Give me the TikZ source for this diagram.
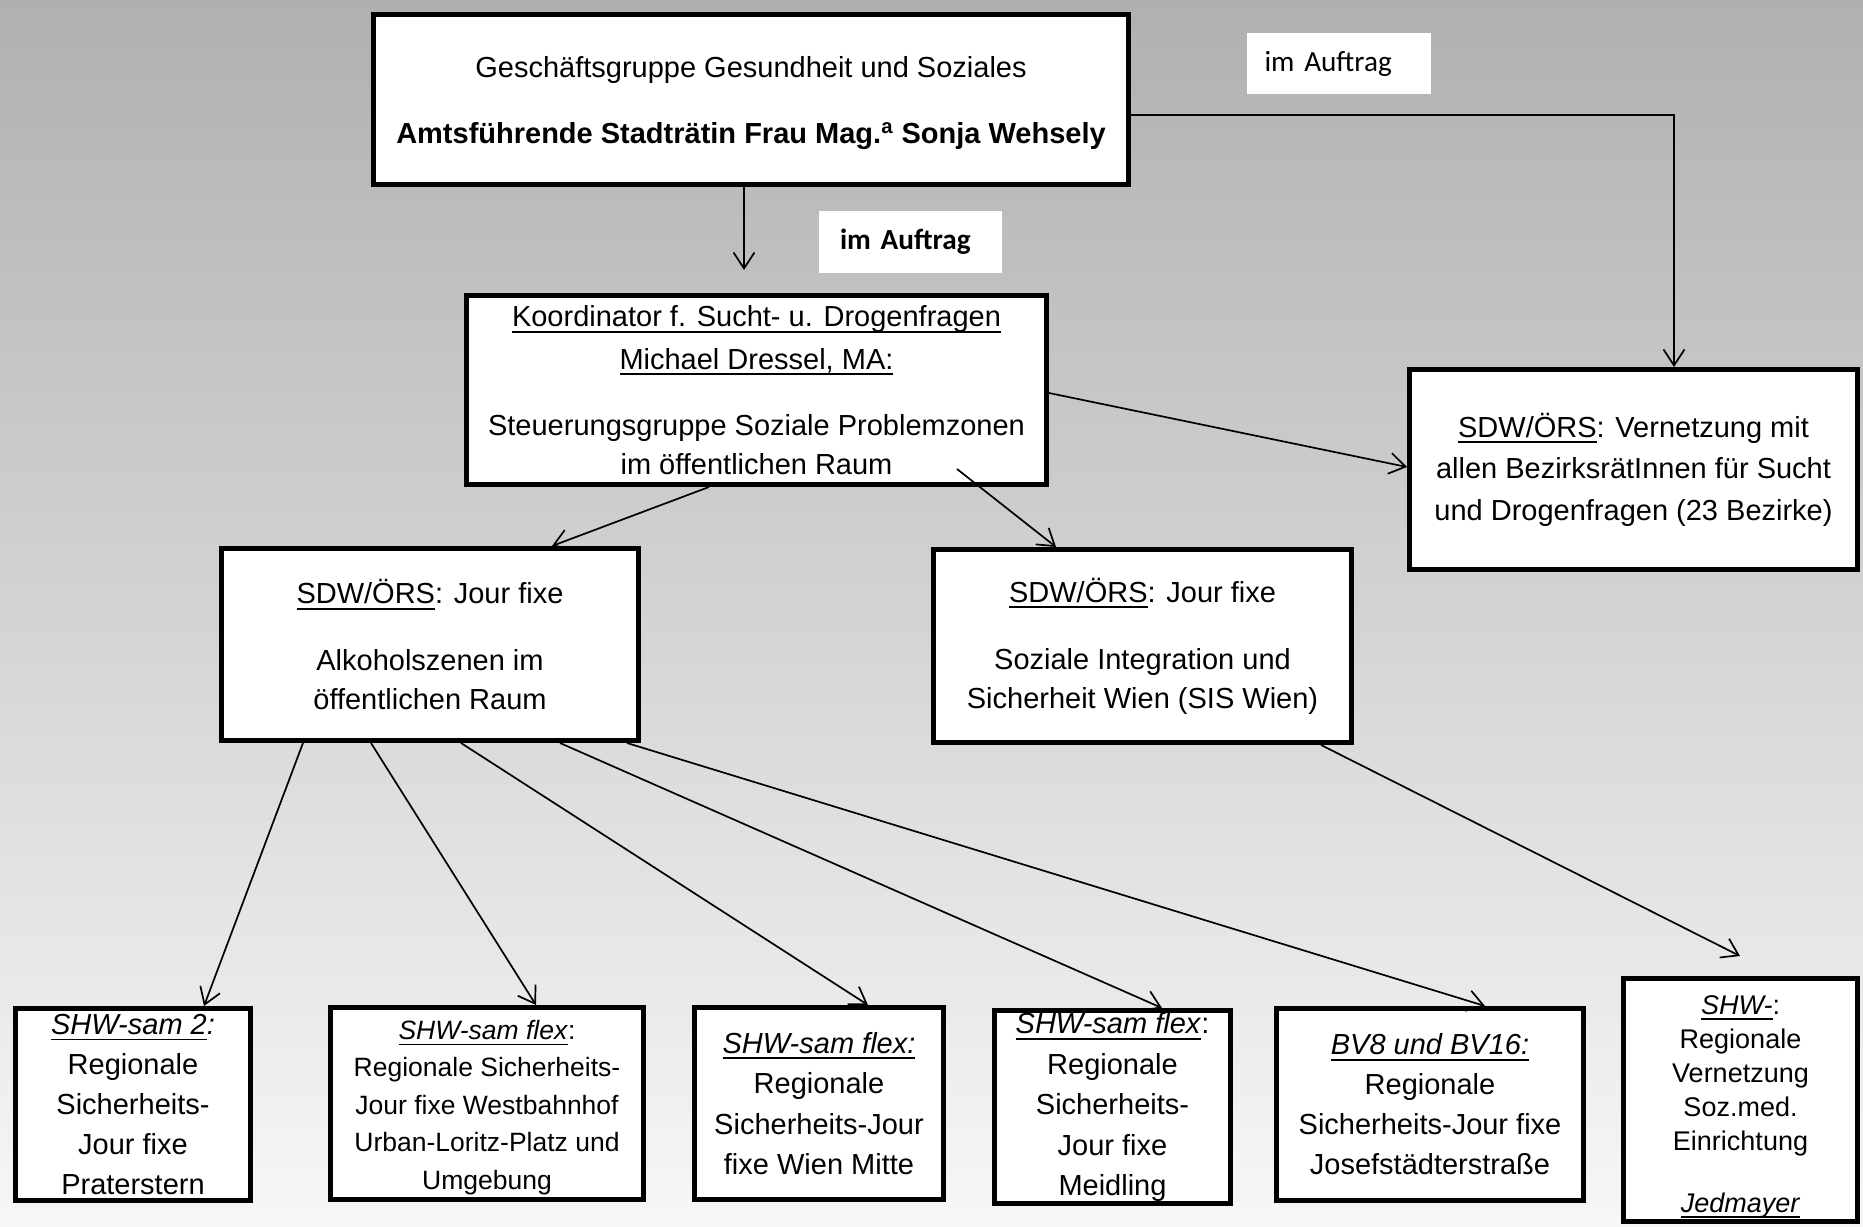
\documentclass[tikz,border=0pt]{standalone}
\usepackage{fontspec}
\setmainfont{Liberation Sans}
\newfontfamily\calibfont{Carlito}
\usetikzlibrary{arrows.meta}
\definecolor{bgtop}{RGB}{176,176,176}
\definecolor{bgbot}{RGB}{247,247,247}
\newsavebox\ulbox
\newcommand\myul[1]{\sbox\ulbox{#1}\rlap{\rule[-3pt]{\wd\ulbox}{0.9pt}}\usebox\ulbox}
\tikzset{
  box/.style={draw=black, line width=2.5pt, fill=white, inner sep=0pt, align=center,
    font=\fontsize{14.5}{19.5}\selectfont},
  smallbox/.style={box, font=\fontsize{13.25}{18.75}\selectfont},
  tinybox/.style={box, font=\fontsize{13.5}{17}\selectfont},
  lbl/.style={fill=white, inner ysep=0pt, align=left, font=\calibfont\fontsize{14.6}{17}\selectfont},
  arr/.style={draw=black, line width=0.85pt, -{Straight Barb[length=8pt,width=10.5pt]}}
}
\begin{document}
\begin{tikzpicture}[x=0.5pt,y=-0.5pt]
\useasboundingbox (0,0) rectangle (1863,1226);
\shade[top color=bgtop, bottom color=bgbot] (0,0) rectangle (1863,1226);

% boxes
\node[box, minimum width=377.5pt, minimum height=85pt] (top) at (751,99.5)
  {\rule{0pt}{14.1pt}Geschäftsgruppe Gesundheit und Soziales\\[13.5pt]\textbf{Amtsführende Stadträtin Frau Mag.\textsuperscript{a} Sonja Wehsely}};
\node[box, minimum width=290pt, minimum height=94.5pt] (koord) at (756.5,390)
  {\myul{Koordinator f. Sucht- u. Drogenfragen}\\[1.75pt]\myul{Michael Dressel, MA:}\\[13.5pt]Steuerungsgruppe Soziale Problemzonen\\im öffentlichen Raum};
\node[box, minimum width=224pt, minimum height=100pt, font=\fontsize{14.5}{20.75}\selectfont] (right) at (1633.5,469.5)
  {\myul{SDW/ÖRS}: Vernetzung mit\\allen BezirksrätInnen für Sucht\\und Drogenfragen (23 Bezirke)};
\node[box, minimum width=208.5pt, minimum height=96pt] (leftjf) at (430,644.5)
  {\myul{SDW/ÖRS}: Jour fixe\\[14pt]Alkoholszenen im\\öffentlichen Raum};
\node[box, minimum width=209pt, minimum height=96.5pt] (sis) at (1142.5,646)
  {\myul{SDW/ÖRS}: Jour fixe\\[14pt]Soziale Integration und\\Sicherheit Wien (SIS Wien)};
\node[box, minimum width=117.5pt, minimum height=96pt, font=\fontsize{14.5}{20}\selectfont] (b1) at (133,1104.5)
  {\myul{\textit{SHW-sam 2}}\textit{:}\\Regionale\\Sicherheits-\\Jour fixe\\Praterstern};
\node[smallbox, minimum width=156.5pt, minimum height=96pt] (b2) at (487,1103.5)
  {\rule{0pt}{13.7pt}\myul{\textit{SHW-sam flex}}:\\Regionale Sicherheits-\\Jour fixe Westbahnhof\\Urban-Loritz-Platz und\\Umgebung};
\node[box, minimum width=124.5pt, minimum height=96pt, font=\fontsize{14.5}{20.25}\selectfont] (b3) at (819,1103.5)
  {\myul{\textit{SHW-sam flex:}}\\Regionale\\Sicherheits-Jour\\fixe Wien Mitte};
\node[box, minimum width=118pt, minimum height=96.5pt, font=\fontsize{14.5}{20.25}\selectfont] (b4) at (1112.5,1107)
  {\myul{\textit{SHW-sam flex}}:\\Regionale\\Sicherheits-\\Jour fixe\\Meidling};
\node[box, minimum width=153.5pt, minimum height=96pt, font=\fontsize{14.5}{20}\selectfont] (b5) at (1430,1104.5)
  {\myul{\textit{BV8 und BV16:}}\\Regionale\\Sicherheits-Jour fixe\\Josefstädterstraße};
\node[tinybox, minimum width=117pt, minimum height=121.5pt] (b6) at (1740.5,1100)
  {\rule{0pt}{16pt}\myul{\textit{SHW-}}:\\Regionale\\Vernetzung\\Soz.med.\\Einrichtung\\[14pt]\myul{\textit{Jedmayer}}};

% labels
\node[lbl, text width=74pt, inner xsep=9pt, minimum height=30.5pt] (lab1) at (1338.5,63.5) {im Auftrag};
\node[lbl, text width=70.5pt, inner xsep=10.5pt, minimum height=31pt, font=\calibfont\bfseries\fontsize{14.6}{17}\selectfont] (lab2) at (910.5,242) {im Auftrag};

% connectors
\coordinate (kA) at (744,270);
\draw[arr] (top.south -| kA) -- (kA);
\coordinate (rA) at (1674,115);
\draw[arr] (top.east |- rA) -- (rA) -- (right.north -| rA);
\draw[arr] (koord.east |- 0,393) -- (right.west |- 0,467);
\draw[arr] (koord.south -| 709,0) -- (leftjf.north -| 552,0);
\coordinate (kS) at (957,469);
\draw[arr] (kS) -- (sis.north -| 1056,0);
\draw[arr] (leftjf.south -| 303,0) -- (b1.north -| 204,0);
\draw[arr] (leftjf.south -| 371,0) -- (b2.north -| 536,0);
\draw[arr] (leftjf.south -| 461,0) -- (b3.north -| 868,0);
\draw[arr] (leftjf.south -| 560,0) -- (b4.north -| 1162,0);
\draw[arr] (leftjf.south -| 627,0) -- (b5.north -| 1485,0);
\coordinate (sB) at (1740,956);
\draw[arr] (sis.south -| 1321,0) -- (sB);
\end{tikzpicture}
\end{document}
